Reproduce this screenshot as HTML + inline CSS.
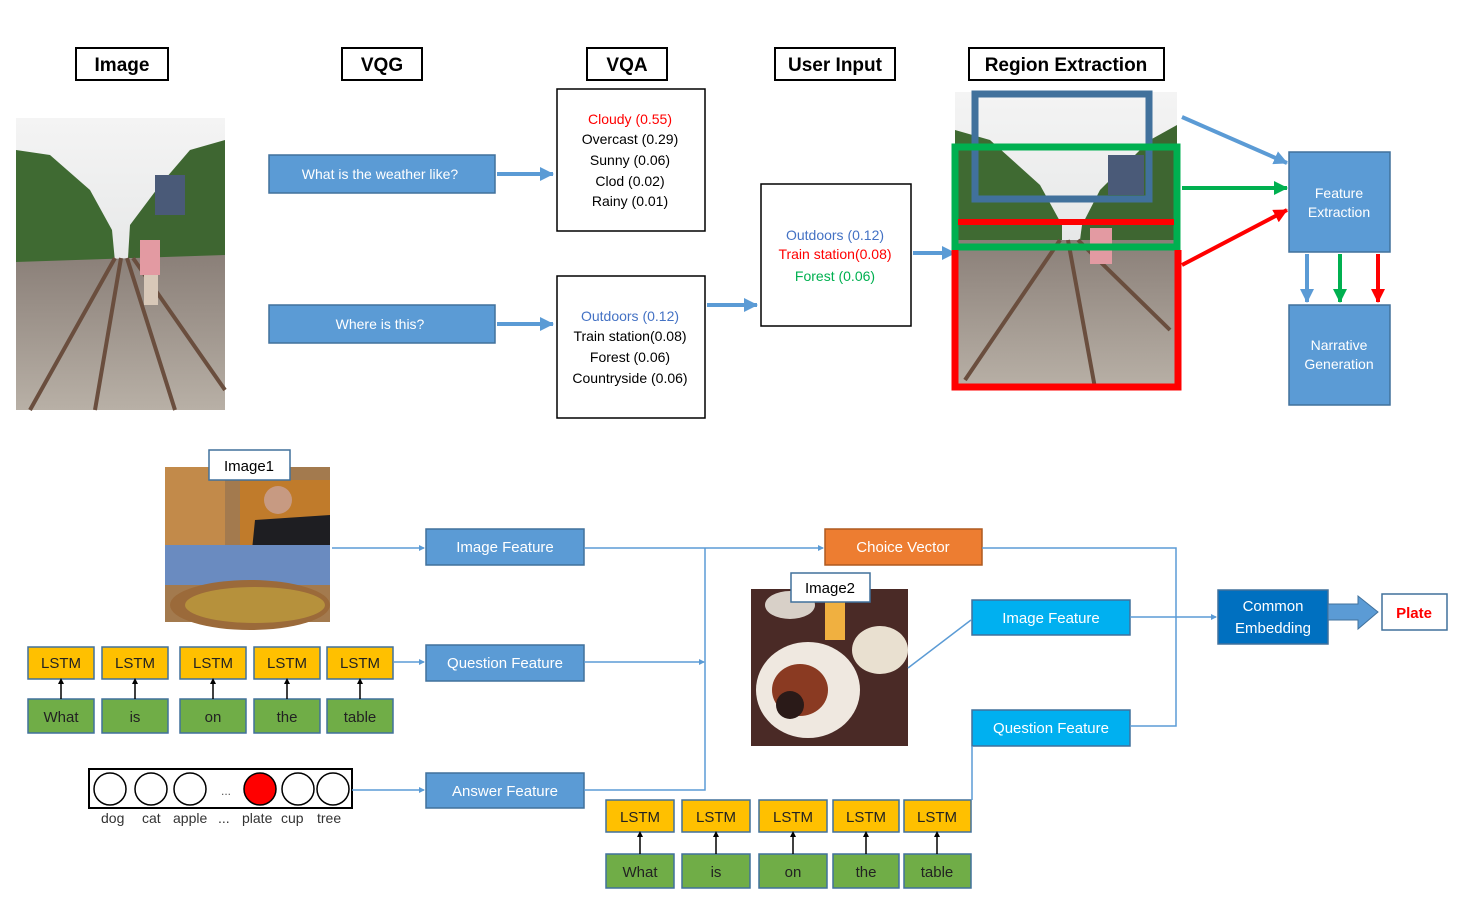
<!DOCTYPE html>
<html><head><meta charset="utf-8"><style>
html,body{margin:0;padding:0;background:#fff}
svg{display:block}
text{font-family:"Liberation Sans",sans-serif}
</style></head><body>
<svg width="1457" height="899" viewBox="0 0 1457 899" xmlns="http://www.w3.org/2000/svg">
<defs>
<linearGradient id="sky" x1="0" y1="0" x2="0" y2="1"><stop offset="0" stop-color="#f4f4f4"/><stop offset="1" stop-color="#d9dcdc"/></linearGradient>
<linearGradient id="trk" x1="0" y1="0" x2="0" y2="1"><stop offset="0" stop-color="#8a7f78"/><stop offset="1" stop-color="#b8b0a6"/></linearGradient>
<marker id="as" markerWidth="6" markerHeight="6" refX="5" refY="3" orient="auto" markerUnits="userSpaceOnUse"><path d="M0,0 L6,3 L0,6z" fill="#5b9bd5"/></marker>
<marker id="ak" markerWidth="6" markerHeight="6" refX="3" refY="3" orient="auto" markerUnits="userSpaceOnUse"><path d="M0,0 L6,3 L0,6z" fill="#000"/></marker>
<marker id="big" markerWidth="14" markerHeight="14" refX="13" refY="7" orient="auto" markerUnits="userSpaceOnUse"><path d="M0,0 L14,7 L0,14z" fill="#5b9bd5"/></marker>
<marker id="bg" markerWidth="14" markerHeight="14" refX="13" refY="7" orient="auto" markerUnits="userSpaceOnUse"><path d="M0,0 L14,7 L0,14z" fill="#00b050"/></marker>
<marker id="br" markerWidth="14" markerHeight="14" refX="13" refY="7" orient="auto" markerUnits="userSpaceOnUse"><path d="M0,0 L14,7 L0,14z" fill="#ff0000"/></marker>
</defs>

<g fill="#fff" stroke="#000" stroke-width="2">
<rect x="76" y="48" width="92" height="32"/><rect x="342" y="48" width="80" height="32"/>
<rect x="587" y="48" width="80" height="32"/><rect x="775" y="48" width="120" height="32"/>
<rect x="969" y="48" width="195" height="32"/></g>
<g font-size="19" font-weight="bold" text-anchor="middle">
<text x="122" y="71">Image</text><text x="382" y="71">VQG</text><text x="627" y="71">VQA</text>
<text x="835" y="71">User Input</text><text x="1066" y="71">Region Extraction</text></g>

<g>
<rect x="16" y="118" width="209" height="292" fill="url(#sky)"/>
<path d="M16,150 L50,155 L90,190 L112,230 L115,262 L16,270z" fill="#3f6a32"/>
<path d="M225,140 L190,150 L160,185 L130,225 L128,258 L225,262z" fill="#3e6631"/>
<rect x="155" y="175" width="30" height="40" fill="#4a5a78"/>
<path d="M16,262 L225,255 L225,410 L16,410z" fill="url(#trk)"/>
<path d="M115,258 L30,410 M121,258 L95,410 M127,258 L175,410 M133,258 L225,390" stroke="#6a4e3e" stroke-width="4"/>
<rect x="140" y="240" width="20" height="35" fill="#e39aa2"/><rect x="144" y="275" width="14" height="30" fill="#d8c8b8"/>
</g>

<g fill="#5b9bd5" stroke="#41719c" stroke-width="1.5">
<rect x="269" y="155" width="226" height="38"/><rect x="269" y="305" width="226" height="38"/></g>
<g fill="#fff" font-size="14" text-anchor="middle">
<text x="380" y="179">What is the weather like?</text><text x="380" y="329">Where is this?</text></g>
<g stroke="#5b9bd5" stroke-width="4" fill="none">
<line x1="497" y1="174" x2="553" y2="174" marker-end="url(#big)"/>
<line x1="497" y1="324" x2="553" y2="324" marker-end="url(#big)"/>
<line x1="707" y1="305" x2="757" y2="305" marker-end="url(#big)"/>
<line x1="913" y1="253" x2="955" y2="253" marker-end="url(#big)"/>
</g>

<g fill="#fff" stroke="#000" stroke-width="1.5">
<rect x="557" y="89" width="148" height="142"/><rect x="557" y="276" width="148" height="142"/>
<rect x="761" y="184" width="150" height="142"/></g>
<g font-size="14" text-anchor="middle">
<text x="630" y="124" fill="#ff0000">Cloudy (0.55)</text>
<text x="630" y="144">Overcast (0.29)</text><text x="630" y="165">Sunny (0.06)</text>
<text x="630" y="186">Clod (0.02)</text><text x="630" y="206">Rainy (0.01)</text>
<text x="630" y="321" fill="#4472c4">Outdoors (0.12)</text>
<text x="630" y="341">Train station(0.08)</text><text x="630" y="362">Forest (0.06)</text>
<text x="630" y="383">Countryside (0.06)</text>
<text x="835" y="240" fill="#4472c4">Outdoors (0.12)</text>
<text x="835" y="259" fill="#ff0000">Train station(0.08)</text>
<text x="835" y="281" fill="#00b050">Forest (0.06)</text>
</g>

<g>
<rect x="955" y="92" width="222" height="296" fill="url(#sky)"/>
<path d="M955,130 L990,140 L1040,185 L1062,225 L1062,240 L955,240z" fill="#3f6a32"/>
<path d="M1177,125 L1150,140 L1100,190 L1082,225 L1080,240 L1177,240z" fill="#3e6631"/>
<rect x="1108" y="155" width="36" height="40" fill="#4a5a78"/>
<path d="M955,240 L1177,240 L1177,388 L955,388z" fill="url(#trk)"/>
<path d="M1060,240 L965,380 M1068,240 L1095,388 M1078,240 L1170,330" stroke="#6a4e3e" stroke-width="4"/>
<rect x="1090" y="228" width="22" height="36" fill="#e39aa2"/>
</g>
<g fill="none" stroke-width="7">
<rect x="975" y="94" width="174" height="105" stroke="#41719c"/>
<rect x="955" y="147" width="222" height="100" stroke="#00b050"/>
<path d="M958,222 L1174,222" stroke="#ff0000" stroke-width="6"/>
<path d="M955,250 L955,387 L1178,387 L1178,250" stroke="#ff0000"/>
</g>
<line x1="1182" y1="117" x2="1287" y2="163" stroke="#5b9bd5" stroke-width="4" marker-end="url(#big)"/>
<line x1="1182" y1="188" x2="1287" y2="188" stroke="#00b050" stroke-width="4" marker-end="url(#bg)"/>
<line x1="1182" y1="265" x2="1287" y2="210" stroke="#ff0000" stroke-width="4" marker-end="url(#br)"/>
<g fill="#5b9bd5" stroke="#41719c" stroke-width="1.5">
<rect x="1289" y="152" width="101" height="100"/><rect x="1289" y="305" width="101" height="100"/></g>
<g fill="#fff" font-size="14" text-anchor="middle">
<text x="1339" y="198">Feature</text><text x="1339" y="217">Extraction</text>
<text x="1339" y="350">Narrative</text><text x="1339" y="369">Generation</text></g>
<line x1="1307" y1="254" x2="1307" y2="302" stroke="#5b9bd5" stroke-width="4" marker-end="url(#big)"/>
<line x1="1340" y1="254" x2="1340" y2="302" stroke="#00b050" stroke-width="4" marker-end="url(#bg)"/>
<line x1="1378" y1="254" x2="1378" y2="302" stroke="#ff0000" stroke-width="4" marker-end="url(#br)"/>

<g>
<rect x="165" y="467" width="165" height="155" fill="#a37a4e"/>
<rect x="165" y="467" width="60" height="80" fill="#c28a4a"/>
<rect x="240" y="480" width="90" height="70" fill="#c07b2b"/>
<path d="M255,520 L330,515 L330,570 L250,570z" fill="#1e1e22"/>
<circle cx="278" cy="500" r="14" fill="#c79a82"/>
<rect x="165" y="545" width="165" height="40" fill="#6a8bc0"/>
<ellipse cx="250" cy="605" rx="80" ry="25" fill="#9b6a3a"/>
<ellipse cx="255" cy="605" rx="70" ry="18" fill="#b6913c"/>
</g>
<rect x="209" y="450" width="81" height="30" fill="#fff" stroke="#41719c" stroke-width="1.5"/>
<text x="249" y="471" font-size="15" text-anchor="middle">Image1</text>

<g stroke="#41719c" stroke-width="1.5">
<g fill="#ffc000"><rect x="28" y="647" width="66" height="32"/><rect x="102" y="647" width="66" height="32"/><rect x="180" y="647" width="66" height="32"/><rect x="254" y="647" width="66" height="32"/><rect x="327" y="647" width="66" height="32"/>
<rect x="606" y="800" width="68" height="32"/><rect x="682" y="800" width="68" height="32"/><rect x="759" y="800" width="68" height="32"/><rect x="833" y="800" width="66" height="32"/><rect x="904" y="800" width="67" height="32"/></g>
<g fill="#70ad47"><rect x="28" y="699" width="66" height="34"/><rect x="102" y="699" width="66" height="34"/><rect x="180" y="699" width="66" height="34"/><rect x="254" y="699" width="66" height="34"/><rect x="327" y="699" width="66" height="34"/>
<rect x="606" y="854" width="68" height="34"/><rect x="682" y="854" width="68" height="34"/><rect x="759" y="854" width="68" height="34"/><rect x="833" y="854" width="66" height="34"/><rect x="904" y="854" width="67" height="34"/></g>
</g>
<g stroke="#000" stroke-width="1.5" marker-end="url(#ak)">
<line x1="61" y1="699" x2="61" y2="681"/><line x1="135" y1="699" x2="135" y2="681"/><line x1="213" y1="699" x2="213" y2="681"/><line x1="287" y1="699" x2="287" y2="681"/><line x1="360" y1="699" x2="360" y2="681"/>
<line x1="640" y1="854" x2="640" y2="834"/><line x1="716" y1="854" x2="716" y2="834"/><line x1="793" y1="854" x2="793" y2="834"/><line x1="866" y1="854" x2="866" y2="834"/><line x1="937" y1="854" x2="937" y2="834"/>
</g>
<g font-size="15" text-anchor="middle" fill="#222">
<text x="61" y="668">LSTM</text><text x="135" y="668">LSTM</text><text x="213" y="668">LSTM</text><text x="287" y="668">LSTM</text><text x="360" y="668">LSTM</text>
<text x="61" y="722">What</text><text x="135" y="722">is</text><text x="213" y="722">on</text><text x="287" y="722">the</text><text x="360" y="722">table</text>
<text x="640" y="822">LSTM</text><text x="716" y="822">LSTM</text><text x="793" y="822">LSTM</text><text x="866" y="822">LSTM</text><text x="937" y="822">LSTM</text>
<text x="640" y="877">What</text><text x="716" y="877">is</text><text x="793" y="877">on</text><text x="866" y="877">the</text><text x="937" y="877">table</text>
</g>

<rect x="89" y="769" width="263" height="39" fill="#fff" stroke="#000" stroke-width="2"/>
<g stroke="#000" stroke-width="1.5" fill="#fff">
<circle cx="110" cy="789" r="16"/><circle cx="151" cy="789" r="16"/><circle cx="190" cy="789" r="16"/>
<circle cx="260" cy="789" r="16" fill="#ff0000"/><circle cx="298" cy="789" r="16"/><circle cx="333" cy="789" r="16"/></g>
<text x="226" y="795" font-size="12" text-anchor="middle" fill="#555">...</text>
<g font-size="14" fill="#333"><text x="101" y="823">dog</text><text x="142" y="823">cat</text><text x="173" y="823">apple</text><text x="218" y="823">...</text><text x="242" y="823">plate</text><text x="281" y="823">cup</text><text x="317" y="823">tree</text></g>

<g fill="#5b9bd5" stroke="#41719c" stroke-width="1.5">
<rect x="426" y="529" width="158" height="36"/><rect x="426" y="645" width="158" height="36"/><rect x="426" y="773" width="158" height="35"/></g>
<rect x="825" y="529" width="157" height="36" fill="#ed7d31" stroke="#ae5a21" stroke-width="1.5"/>
<g fill="#00b0f0" stroke="#41719c" stroke-width="1.5">
<rect x="972" y="600" width="158" height="35"/><rect x="972" y="710" width="158" height="36"/></g>
<rect x="1218" y="590" width="110" height="54" fill="#0070c0" stroke="#41719c" stroke-width="1.5"/>
<rect x="1382" y="594" width="65" height="36" fill="#fff" stroke="#41719c" stroke-width="1.5"/>
<g fill="#fff" font-size="15" text-anchor="middle">
<text x="505" y="552">Image Feature</text><text x="505" y="668">Question Feature</text><text x="505" y="796">Answer Feature</text>
<text x="903" y="552">Choice Vector</text><text x="1051" y="623">Image Feature</text><text x="1051" y="733">Question Feature</text>
<text x="1273" y="611">Common</text><text x="1273" y="633">Embedding</text></g>
<text x="1414" y="618" font-size="15" font-weight="bold" fill="#ff0000" text-anchor="middle">Plate</text>

<g>
<rect x="751" y="589" width="157" height="157" fill="#4a2a26"/>
<ellipse cx="808" cy="690" rx="52" ry="48" fill="#efe8e0"/>
<ellipse cx="800" cy="690" rx="28" ry="26" fill="#8a3a22"/>
<ellipse cx="790" cy="705" rx="14" ry="14" fill="#2a1a18"/>
<ellipse cx="880" cy="650" rx="28" ry="24" fill="#e9e0d0"/>
<rect x="825" y="600" width="20" height="40" fill="#f0b040"/>
<ellipse cx="790" cy="605" rx="25" ry="14" fill="#d8d0c8"/>
</g>
<rect x="791" y="573" width="79" height="29" fill="#fff" stroke="#41719c" stroke-width="1.5"/>
<text x="830" y="593" font-size="15" text-anchor="middle">Image2</text>

<g stroke="#5b9bd5" stroke-width="1.5" fill="none">
<line x1="332" y1="548" x2="424" y2="548" marker-end="url(#as)"/>
<line x1="394" y1="662" x2="424" y2="662" marker-end="url(#as)"/>
<line x1="352" y1="790" x2="424" y2="790" marker-end="url(#as)"/>
<line x1="584" y1="548" x2="823" y2="548" marker-end="url(#as)"/>
<line x1="584" y1="662" x2="704" y2="662" marker-end="url(#as)"/>
<polyline points="584,790 705,790 705,548"/>
<polyline points="982,548 1176,548 1176,726 1130,726"/>
<line x1="1130" y1="617" x2="1216" y2="617" marker-end="url(#as)"/>
<line x1="908" y1="668" x2="971" y2="620"/>
<line x1="972" y1="746" x2="972" y2="800"/>
</g>
<path d="M1328,604 L1358,604 L1358,596 L1378,612 L1358,629 L1358,620 L1328,620z" fill="#5b9bd5" stroke="#41719c" stroke-width="1"/>
</svg>
</body></html>
